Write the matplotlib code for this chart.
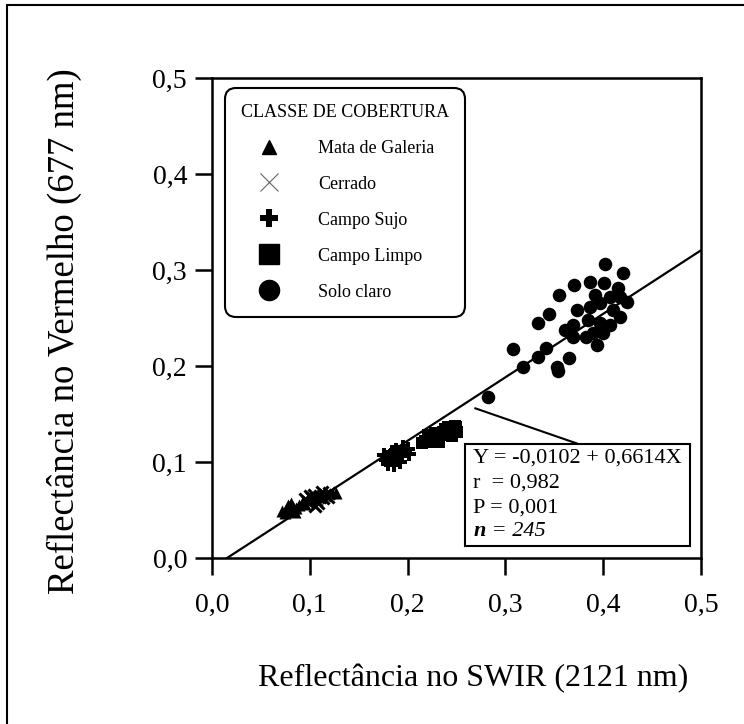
import matplotlib
matplotlib.use("Agg")
import matplotlib.pyplot as plt
from matplotlib.lines import Line2D
from matplotlib.patches import Rectangle

plt.rcParams['font.family'] = ['Liberation Serif', 'DejaVu Serif']

# ---------------- data ----------------
tick_values = [0.0, 0.1, 0.2, 0.3, 0.4, 0.5]
tick_labels = ["0,0", "0,1", "0,2", "0,3", "0,4", "0,5"]

classes = ["Mata de Galeria", "Cerrado", "Campo Sujo", "Campo Limpo", "Solo claro"]

mata_x = [0.072, 0.076, 0.080, 0.083, 0.078, 0.086, 0.089, 0.092, 0.075, 0.085, 0.095, 0.081, 0.127]
mata_y = [0.049, 0.051, 0.050, 0.053, 0.055, 0.052, 0.055, 0.057, 0.047, 0.048, 0.056, 0.057, 0.068]

cerrado_x = [0.098, 0.102, 0.106, 0.110, 0.104, 0.113, 0.116, 0.108, 0.100, 0.112, 0.119, 0.095, 0.105, 0.120]
cerrado_y = [0.058, 0.062, 0.060, 0.064, 0.066, 0.062, 0.066, 0.057, 0.065, 0.069, 0.064, 0.061, 0.054, 0.068]

sujo_x = [0.178, 0.182, 0.186, 0.190, 0.184, 0.194, 0.197, 0.188, 0.180, 0.192, 0.200, 0.176, 0.195, 0.186, 0.201]
sujo_y = [0.102, 0.106, 0.104, 0.108, 0.110, 0.106, 0.111, 0.113, 0.098, 0.100, 0.114, 0.107, 0.116, 0.097, 0.108]

limpo_x = [0.218, 0.222, 0.226, 0.230, 0.233, 0.236, 0.240, 0.243, 0.246, 0.249, 0.250, 0.245,
           0.238, 0.228, 0.221, 0.232, 0.248, 0.241, 0.215, 0.226]
limpo_y = [0.122, 0.125, 0.127, 0.124, 0.129, 0.131, 0.128, 0.132, 0.134, 0.136, 0.131, 0.127,
           0.134, 0.130, 0.128, 0.121, 0.138, 0.136, 0.120, 0.121]

solo_x = [0.402, 0.420, 0.370, 0.387, 0.401, 0.355, 0.415, 0.345, 0.333, 0.308, 0.342, 0.333,
          0.318, 0.353, 0.365, 0.354, 0.282, 0.394, 0.369, 0.361, 0.369, 0.373, 0.387, 0.397,
          0.410, 0.417, 0.424, 0.384, 0.397, 0.407, 0.390, 0.382, 0.400, 0.417, 0.407, 0.392]
solo_y = [0.306, 0.297, 0.284, 0.2875, 0.286, 0.274, 0.281, 0.254, 0.245, 0.218, 0.219, 0.209,
          0.199, 0.199, 0.208, 0.195, 0.168, 0.222, 0.230, 0.2375, 0.243, 0.258, 0.261, 0.266,
          0.258, 0.251, 0.267, 0.248, 0.245, 0.243, 0.234, 0.230, 0.234, 0.272, 0.272, 0.274]

intercept = -0.0102
slope = 0.6614
fit_x = [intercept / -slope, 0.5]

stats_lines = ["Y = -0,0102 + 0,6614X", "r  = 0,982", "P = 0,001"]
n_label = "n"
n_value = " = 245"

# ---------------- figure ----------------
W, H = 744, 724
fig = plt.figure(figsize=(W / 100, H / 100), dpi=100)
ax = fig.add_axes([212 / W, 1 - 558 / H, (701 - 212) / W, (558 - 78) / H])

ax.scatter(mata_x, mata_y, marker='^', s=75, c='black', linewidths=0, zorder=3)
ax.scatter(cerrado_x, cerrado_y, marker='x', s=75, c='black', linewidths=2.2, zorder=3)
ax.scatter(sujo_x, sujo_y, marker='P', s=110, c='black', linewidths=0, zorder=3)
ax.scatter(limpo_x, limpo_y, marker='s', s=80, c='black', linewidths=0, zorder=3)
ax.scatter(solo_x, solo_y, marker='o', s=95, c='black', linewidths=0, zorder=3)

fit_y = [intercept + slope * v for v in fit_x]
ax.plot(fit_x, fit_y, color='black', lw=1.6, zorder=2)

ax.set_xlim(0, 0.5)
ax.set_ylim(0, 0.5)
ax.set_xticks(tick_values)
ax.set_xticklabels(tick_labels)
ax.set_yticks(tick_values)
ax.set_yticklabels(tick_labels)
ax.tick_params(direction='out', length=12, width=1.8, labelsize=20, pad=6, color='black')
ax.tick_params(axis='x', pad=13)
for sp in ax.spines.values():
    sp.set_linewidth(1.8)

ax.set_xlabel("Reflectância no SWIR (2121 nm)", fontsize=23, va='center')
ax.xaxis.set_label_coords((473 - 212) / 489, -(679 - 558) / 480)
ax.set_ylabel("Reflectância no Vermelho (677 nm)", fontsize=26.5, va='center')
ax.yaxis.set_label_coords((64 - 212) / 489, (558 - 331) / 480)

# legend
handles = [
    Line2D([], [], ls='none', marker='^', ms=9.5, mfc='black', mec='black'),
    Line2D([], [], ls='none', marker='x', ms=13, mew=0.8, color='#666666'),
    Line2D([], [], ls='none', marker='P', ms=13, mfc='black', mec='black', mew=0),
    Line2D([], [], ls='none', marker='s', ms=14.5, mfc='black', mec='black'),
    Line2D([], [], ls='none', marker='o', ms=14.5, mfc='black', mec='black'),
]
leg = ax.legend(handles, classes, title="CLASSE DE COBERTURA", loc='upper left',
                bbox_to_anchor=((225 - 212) / 489, (558 - 88) / 480), borderaxespad=0,
                prop={'size': 13}, title_fontsize=13, frameon=True, fancybox=True,
                edgecolor='black', framealpha=1, handlelength=1.55, handletextpad=1.95,
                labelspacing=1.05, borderpad=0.88)
leg.get_frame().set_linewidth(1.5)
leg.get_frame().set_boxstyle('round,pad=0,rounding_size=0.6')
leg.get_title().set_fontweight('normal')

# statistics box
ax.add_patch(Rectangle(((465 - 212) / 489, (558 - 546) / 480), (690 - 465) / 489, (546 - 444) / 480,
                       transform=ax.transAxes, fc='white', ec='black', lw=1.5, zorder=4))
ys = [458, 483, 508]
for txt, py in zip(stats_lines, ys):
    ax.text((473 - 212) / 489, (558 - py) / 480, txt, transform=ax.transAxes, fontsize=16,
            ha='left', va='center', zorder=5)
tn = ax.text((474 - 212) / 489, (558 - 531) / 480, n_label, transform=ax.transAxes, fontsize=16,
             ha='left', va='center', style='italic', fontweight='bold', zorder=5)
ax.annotate(n_value, xy=(1, 0.5), xycoords=tn, fontsize=16, ha='left', va='center',
            style='italic', zorder=5)

ax.annotate("", xy=(0.374, 0.119), xytext=(0.269, 0.156), xycoords='data',
            arrowprops=dict(arrowstyle='-', color='black', lw=1.5, shrinkA=0, shrinkB=0), zorder=4)

# outer frame
fig.patches.append(Rectangle((7 / W, -0.1), 2, 1 - 5 / H + 0.1, transform=fig.transFigure,
                             fc='none', ec='black', lw=1.5, clip_on=False))

fig.savefig("out.png", dpi=100, facecolor='white')
